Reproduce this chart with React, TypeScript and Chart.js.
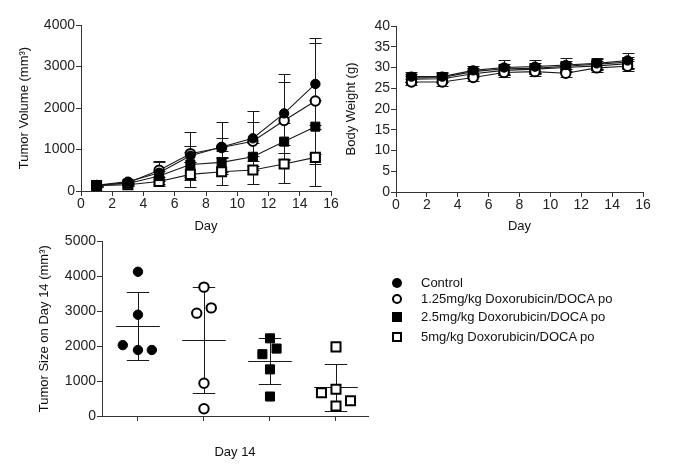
import React, { useEffect, useRef } from 'react';
import { Chart, registerables } from 'chart.js';

Chart.register(...registerables);

const FONT = "'Liberation Sans', Arial, Helvetica, sans-serif";

// ---------- data ----------
const days = [1, 3, 5, 7, 9, 11, 13, 15];
const groupNames = [
  'Control',
  '1.25mg/kg Doxorubicin/DOCA po',
  '2.5mg/kg Doxorubicin/DOCA po',
  '5mg/kg Doxorubicin/DOCA po',
];

// Tumor volume (mean, SD)
const tvControl = [140, 225, 440, 850, 1060, 1270, 1870, 2580];
const tv125 = [135, 200, 500, 900, 1050, 1200, 1700, 2170];
const tv25 = [145, 180, 360, 640, 690, 825, 1190, 1550];
const tv5 = [130, 150, 230, 400, 465, 505, 650, 810];
const tvControlSd = [30, 40, 270, 580, 610, 660, 960, 980];
const tv125Sd = [30, 40, 220, 190, 220, 470, 935, 1510];
const tv25Sd = [30, 40, 120, 300, 280, 330, 450, 650];
const tv5Sd = [30, 40, 100, 300, 325, 345, 450, 680];

// Body weight (mean, SD)
const bwControl = [27.8, 27.8, 29.3, 30.0, 30.2, 30.6, 31.0, 31.7];
const bw125 = [26.5, 26.5, 27.6, 28.8, 29.0, 28.6, 29.9, 30.3];
const bw25 = [27.5, 27.6, 29.0, 29.7, 29.8, 30.3, 30.8, 31.3];
const bw5 = [27.2, 27.3, 28.5, 29.3, 29.6, 30.0, 30.4, 30.9];
const bwControlSd = [1.2, 1.2, 1.1, 1.8, 1.6, 1.6, 1.4, 1.7];
const bw125Sd = [0.8, 0.9, 0.9, 1.1, 1.1, 1.0, 1.1, 1.2];
const bw25Sd = [0.9, 1.0, 1.0, 1.2, 1.2, 1.2, 1.2, 1.3];
const bw5Sd = [0.8, 0.9, 0.9, 1.1, 1.1, 1.1, 1.1, 1.2];

// Day 14 individual tumor sizes
const groupPositions = [1, 2, 3, 4];
const d14Control = [4130, 2900, 2030, 1890, 1890];
const d14ControlJitter = [0, 0, -0.23, 0, 0.21];
const d14g125 = [3690, 2945, 3096, 937, 208];
const d14g125Jitter = [0, -0.11, 0.11, 0, 0];
const d14g25 = [2224, 1931, 1770, 1335, 558];
const d14g25Jitter = [0, 0.1, -0.115, 0, 0];
const d14g5 = [1979, 663, 767, 436, 284];
const d14g5Jitter = [0, -0.22, 0, 0.22, 0];
const d14Mean = [2580, 2180, 1565, 820];
const d14Sd = [970, 1510, 655, 675];

// ---------- styles ----------
const markerStyles = [
  { pointStyle: 'circle', fill: '#000', radius: 4.7, border: 1 },
  { pointStyle: 'circle', fill: '#fff', radius: 4.7, border: 2 },
  { pointStyle: 'rect', fill: '#000', radius: 6.4, border: 1 },
  { pointStyle: 'rect', fill: '#fff', radius: 6.4, border: 2 },
];
const INK = '#1a1a1a';

function makeScale(o: {
  min: number; max: number; step: number; title: string; titlePad: number;
  size: number; horizontal: boolean; tickPad: number; showLabels?: boolean;
}) {
  return {
    type: 'linear',
    min: o.min,
    max: o.max,
    ticks: {
      stepSize: o.step,
      font: { family: FONT, size: 14 },
      color: '#222',
      padding: o.tickPad,
      callback: o.showLabels === false ? () => '' : (v: number) => String(v),
    },
    grid: { drawOnChartArea: false, drawTicks: true, tickLength: 5, color: '#333', lineWidth: 1 },
    border: { display: true, color: '#333', width: 1 },
    title: {
      display: true,
      text: o.title,
      font: { family: FONT, size: 13 },
      color: '#111',
      padding: o.horizontal ? { top: 0, bottom: 0 } : { top: o.titlePad, bottom: 0 },
    },
    afterFit: (s: any) => {
      if (o.horizontal) s.height = o.size;
      else s.width = o.size;
    },
  };
}

function errorBarPlugin(sets: { xs: number[]; mean: number[]; sd: number[] }[], capPx: number) {
  return {
    id: 'errBars',
    beforeDatasetsDraw(chart: any) {
      const { ctx, scales } = chart;
      const x = scales.x, y = scales.y;
      ctx.save();
      ctx.strokeStyle = INK;
      ctx.lineWidth = 1;
      sets.forEach((s) => {
        s.mean.forEach((m, j) => {
          const px = Math.round(x.getPixelForValue(s.xs[j])) + 0.5;
          const top = Math.round(y.getPixelForValue(m + s.sd[j])) + 0.5;
          const bot = Math.round(y.getPixelForValue(Math.max(0, m - s.sd[j]))) + 0.5;
          ctx.beginPath();
          ctx.moveTo(px, top); ctx.lineTo(px, bot);
          ctx.moveTo(px - capPx, top); ctx.lineTo(px + capPx, top);
          ctx.moveTo(px - capPx, bot); ctx.lineTo(px + capPx, bot);
          ctx.stroke();
        });
      });
      ctx.restore();
    },
  };
}

const summaryPlugin = {
  id: 'summary',
  beforeDatasetsDraw(chart: any) {
    const { ctx, scales } = chart;
    const x = scales.x, y = scales.y;
    ctx.save();
    ctx.strokeStyle = INK;
    ctx.lineWidth = 1;
    groupPositions.forEach((c, i) => {
      const m = d14Mean[i], sd = d14Sd[i];
      const ym = Math.round(y.getPixelForValue(m)) + 0.5;
      const yt = Math.round(y.getPixelForValue(m + sd)) + 0.5;
      const yb = Math.round(y.getPixelForValue(m - sd)) + 0.5;
      const xc = Math.round(x.getPixelForValue(c)) + 0.5;
      const xmL = x.getPixelForValue(c - 0.33), xmR = x.getPixelForValue(c + 0.33);
      const xcL = x.getPixelForValue(c - 0.17), xcR = x.getPixelForValue(c + 0.17);
      ctx.beginPath();
      ctx.moveTo(xmL, ym); ctx.lineTo(xmR, ym);
      ctx.moveTo(xc, yt); ctx.lineTo(xc, yb);
      ctx.moveTo(xcL, yt); ctx.lineTo(xcR, yt);
      ctx.moveTo(xcL, yb); ctx.lineTo(xcR, yb);
      ctx.stroke();
    });
    ctx.restore();
  },
};

function lineDataset(vals: number[], k: number) {
  const m = markerStyles[k];
  return {
    label: groupNames[k],
    data: days.map((d, i) => ({ x: d, y: vals[i] })),
    borderColor: INK,
    borderWidth: 1.1,
    pointStyle: m.pointStyle,
    pointRadius: m.radius,
    pointBackgroundColor: m.fill,
    pointBorderColor: '#000',
    pointBorderWidth: m.border,
    clip: false,
  };
}

function scatterDataset(vals: number[], jitter: number[], k: number) {
  const m = markerStyles[k];
  return {
    label: groupNames[k],
    data: vals.map((v, i) => ({ x: groupPositions[k] + jitter[i], y: v })),
    showLine: false,
    pointStyle: m.pointStyle,
    pointRadius: m.radius,
    backgroundColor: m.fill,
    pointBackgroundColor: m.fill,
    pointBorderColor: '#000',
    pointBorderWidth: m.border,
    clip: false,
  };
}

const commonOpts = {
  responsive: false,
  animation: false,
  events: [],
  plugins: { legend: { display: false }, tooltip: { enabled: false } },
};

function buildTumor() {
  return {
    type: 'line',
    data: {
      datasets: [
        lineDataset(tvControl, 0),
        lineDataset(tv125, 1),
        lineDataset(tv25, 2),
        lineDataset(tv5, 3),
      ],
    },
    options: {
      ...commonOpts,
      layout: { padding: { left: 0, top: 25, right: 14, bottom: 2 } },
      scales: {
        x: makeScale({ min: 0, max: 16, step: 2, title: 'Day', titlePad: 0, size: 43, horizontal: true, tickPad: 0 }),
        y: makeScale({ min: 0, max: 4000, step: 1000, title: 'Tumor Volume (mm\u00B3)', titlePad: 17, size: 81, horizontal: false, tickPad: 1 }),
      },
    },
    plugins: [
      errorBarPlugin(
        [
          { xs: days, mean: tv5, sd: tv5Sd },
          { xs: days, mean: tv25, sd: tv25Sd },
          { xs: days, mean: tv125, sd: tv125Sd },
          { xs: days, mean: tvControl, sd: tvControlSd },
        ],
        6
      ),
    ],
  };
}

function buildWeight() {
  return {
    type: 'line',
    data: {
      datasets: [
        lineDataset(bwControl, 0),
        lineDataset(bw125, 1),
        lineDataset(bw25, 2),
        lineDataset(bw5, 3),
      ],
    },
    options: {
      ...commonOpts,
      layout: { padding: { left: 0, top: 26, right: 43, bottom: 2 } },
      scales: {
        x: makeScale({ min: 0, max: 16, step: 2, title: 'Day', titlePad: 0, size: 42, horizontal: true, tickPad: 0 }),
        y: makeScale({ min: 0, max: 40, step: 5, title: 'Body Weight (g)', titlePad: 4, size: 56, horizontal: false, tickPad: 1 }),
      },
    },
    plugins: [
      errorBarPlugin(
        [
          { xs: days, mean: bw5, sd: bw5Sd },
          { xs: days, mean: bw25, sd: bw25Sd },
          { xs: days, mean: bw125, sd: bw125Sd },
          { xs: days, mean: bwControl, sd: bwControlSd },
        ],
        6
      ),
    ],
  };
}

function buildDay14() {
  const xScale: any = makeScale({ min: 0.455, max: 4.485, step: 1, title: 'Day 14', titlePad: 0, size: 44, horizontal: true, tickPad: 0, showLabels: false });
  xScale.afterBuildTicks = (s: any) => {
    s.ticks = groupPositions.map((v) => ({ value: v }));
  };
  return {
    type: 'scatter',
    data: {
      datasets: [
        scatterDataset(d14Control, d14ControlJitter, 0),
        scatterDataset(d14g125, d14g125Jitter, 1),
        scatterDataset(d14g25, d14g25Jitter, 2),
        scatterDataset(d14g5, d14g5Jitter, 3),
      ],
    },
    options: {
      ...commonOpts,
      layout: { padding: { left: 0, top: 8, right: 22, bottom: 15 } },
      scales: {
        x: xScale,
        y: makeScale({ min: 0, max: 5000, step: 1000, title: 'Tumor Size on Day 14 (mm\u00B3)', titlePad: 37, size: 102, horizontal: false, tickPad: 1 }),
      },
    },
    plugins: [summaryPlugin],
  };
}

function ChartCanvas(props: { left: number; top: number; width: number; height: number; build: () => any }) {
  const ref = useRef<HTMLCanvasElement>(null);
  useEffect(() => {
    const chart = new Chart(ref.current as HTMLCanvasElement, props.build());
    return () => chart.destroy();
  }, []);
  return (
    <canvas
      ref={ref}
      width={props.width}
      height={props.height}
      style={{ position: 'absolute', left: props.left, top: props.top, width: props.width, height: props.height }}
    />
  );
}

const legendRowY = [283, 299, 317, 337];

function LegendMarker({ k }: { k: number }) {
  const m = markerStyles[k];
  const isCircle = m.pointStyle === 'circle';
  const size = 10;
  const bw = m.fill === '#fff' ? 2 : 0;
  return (
    <span
      style={{
        position: 'absolute',
        left: 397 - size / 2,
        top: -size / 2 + 8,
        width: size - 2 * bw,
        height: size - 2 * bw,
        background: m.fill,
        border: bw ? `${bw}px solid #000` : 'none',
        borderRadius: isCircle ? '50%' : 0,
      }}
    />
  );
}

export default function App() {
  return (
    <div style={{ position: 'absolute', left: 0, top: 0, width: 686, height: 475, background: '#fff' }}>
      <ChartCanvas left={0} top={0} width={345} height={236} build={buildTumor} />
      <ChartCanvas left={340} top={0} width={346} height={236} build={buildWeight} />
      <ChartCanvas left={0} top={232} width={390} height={243} build={buildDay14} />
      {groupNames.map((name, k) => (
        <div key={name} style={{ position: 'absolute', left: 0, top: legendRowY[k] - 8, height: 16, width: 686 }}>
          <LegendMarker k={k} />
          <span
            style={{
              position: 'absolute',
              left: 421,
              top: 0,
              lineHeight: '16px',
              fontFamily: FONT,
              fontSize: 13,
              color: '#111',
              whiteSpace: 'nowrap',
            }}
          >
            {name}
          </span>
        </div>
      ))}
    </div>
  );
}
